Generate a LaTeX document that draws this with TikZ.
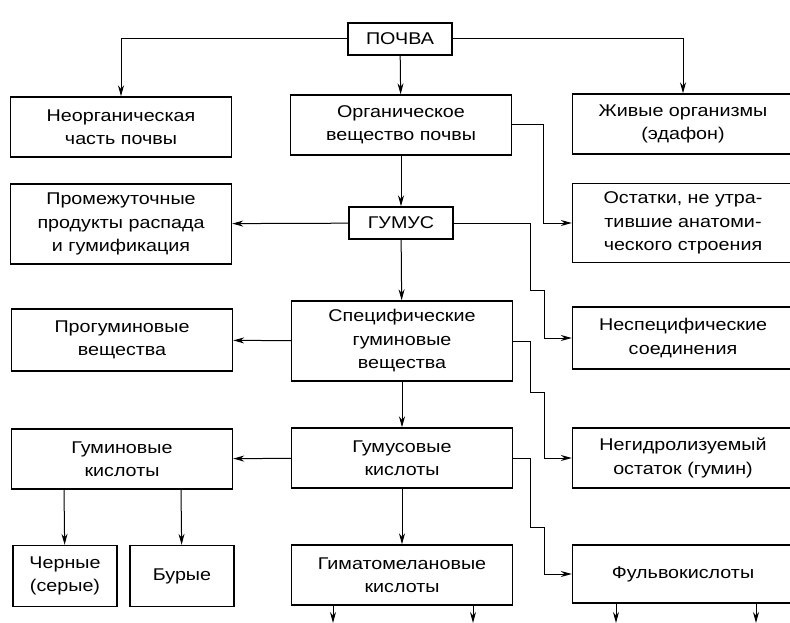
\documentclass[tikz,border=0pt]{standalone}
\usepackage{fontspec}
\setmainfont{Liberation Sans}[FakeStretch=1.16]
\usetikzlibrary{arrows.meta}

\begin{document}
\begin{tikzpicture}[->,>={Stealth[length=11pt,width=6pt]},x=1pt,y=-1pt,line width=1pt]
  \tikzset{box/.style={draw, -, line width=1.4pt, align=center, inner sep=0pt,
                       font=\fontsize{17}{23.5}\selectfont},
           wide/.style={box, minimum width=221pt, minimum height=60pt},
           small/.style={box, minimum width=104pt, minimum height=32pt}}
  \useasboundingbox (0,0) rectangle (790,623);
  % top
  \node[small] (P) at (400,39) {ПОЧВА};
  \node[wide] (N) at (121,127) {Неорганическая\\часть почвы};
  \node[wide] (O) at (401,125) {Органическое\\вещество почвы};
  \node[wide] (Z) at (683,124) {Живые организмы\\(эдафон)};
  % humus
  \node[wide, minimum height=80pt] (PP) at (121,224) {Промежуточные\\продукты распада\\и гумификация};
  \node[small] (G) at (401,223) {ГУМУС};
  \node[wide, minimum height=79pt] (R) at (683,223) {Остатки, не утра-\\тившие анатоми-\\ческого строения};
  \node[wide, minimum height=62pt] (PG) at (122,340) {Прогуминовые\\вещества};
  \node[wide, minimum height=80pt] (SG) at (402,341) {Специфические\\гуминовые\\вещества};
  \node[wide, minimum height=62pt] (NS) at (683,338) {Неспецифические\\соединения};
  % acids
  \node[wide] (GK) at (122,459) {Гуминовые\\кислоты};
  \node[wide] (HK) at (402,458) {Гумусовые\\кислоты};
  \node[wide] (NG) at (683,458) {Негидролизуемый\\остаток (гумин)};
  \node[box, minimum width=104pt, minimum height=61pt] (CH) at (65,576) {Черные\\(серые)};
  \node[box, minimum width=104pt, minimum height=61pt] (B) at (182,576) {Бурые};
  \node[wide, minimum height=60pt] (GM) at (402,575) {Гиматомелановые\\кислоты};
  \node[wide, minimum height=58pt] (F) at (683,574) {Фульвокислоты};
  \coordinate (e1) at (333,623);
  \coordinate (e2) at (473,623);
  \coordinate (e3) at (616,623);
  \coordinate (e4) at (756,623);

  \draw (P) -| (N);
  \draw (P) -| (Z);
  \path (P) edge (O);
  \path (O) edge (G);
  \path (G) edge (PP);
  \path (G) edge (SG);
  \path (SG) edge (PG);
  \path (SG) edge (HK);
  \path (HK) edge (GK);
  \path (HK) edge (GM);
  \draw (O.east) -- ++(31,0) |- (R);
  \draw (G.east) -| (530,290) -- (544,290) |- (NS);
  \draw (SG.east) -| (530,392) -- (544,392) |- (NG);
  \draw (HK.east) -| (530,527) -- (544,527) |- (F);
  \draw (GK.south -| 64,0) -- (CH);
  \draw (GK.south -| 181,0) -- (B);
  \draw (GM.south -| e1) -- (e1);
  \draw (GM.south -| e2) -- (e2);
  \draw (F.south -| e3) -- (e3);
  \draw (F.south -| e4) -- (e4);
\end{tikzpicture}
\end{document}
